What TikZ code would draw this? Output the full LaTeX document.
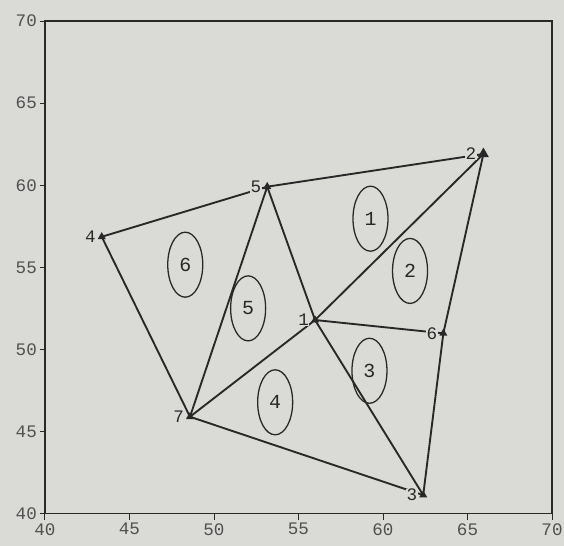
\documentclass[tikz,border=0pt]{standalone}
\usepackage{fontspec}
\setmonofont{Liberation Mono}
\usetikzlibrary{shapes.geometric,positioning}
\definecolor{paper}{RGB}{218,218,215}
\definecolor{ink}{RGB}{40,40,40}
\definecolor{axisgray}{RGB}{80,80,80}

\begin{document}
\begin{tikzpicture}[x=0.507cm,y=0.4926cm,every node/.style={font=\ttfamily\fontsize{15}{15}\selectfont},
  vert/.style={regular polygon,regular polygon sides=3,fill=ink,inner sep=0pt,minimum size=8pt},
  vlabel/.style={text=ink,fill=paper,inner sep=0.5pt},
  edge/.style={draw=ink,line width=1.6pt},
  elem/.style={ellipse,draw=ink,line width=1.1pt,minimum width=1.05cm,minimum height=1.95cm,inner sep=0pt,text=ink,font=\ttfamily\fontsize{17}{17}\selectfont},
  ticklabel/.style={text=axisgray,inner sep=1pt}]
\fill[paper] (37.34,38.03) rectangle (70.71,71.28);
\useasboundingbox (37.34,38.03) rectangle (70.71,71.28);
% frame and ticks
\draw[ink,line width=1.2pt] (40,40) rectangle (70,70);
\foreach \t in {40,45,...,70}{
  \draw[ink,line width=0.8pt] (\t,40) -- (\t,39.6);
  \node[ticklabel,anchor=north] (xt\t) at (\t,39.5) {\t};
  \draw[ink,line width=0.8pt] (40,\t) -- (39.7,\t);
  \node[ticklabel,anchor=east] (yt\t) at (39.6,\t) {\t};
}
% vertices
\node[vert] (v1) at (55.98,51.79) {};
\node[vert,minimum size=11pt] (v2) at (65.94,61.90) {};
\node[vert] (v3) at (62.38,41.13) {};
\node[vert] (v4) at (43.36,56.86) {};
\node[vert] (v5) at (53.15,59.91) {};
\node[vert] (v6) at (63.57,50.98) {};
\node[vert] (v7) at (48.58,45.90) {};
% edges
\draw[edge] (v4.center)--(v5.center);
\draw[edge] (v5.center)--(v2.center);
\draw[edge] (v2.center)--(v1.center);
\draw[edge] (v2.center)--(v6.center);
\draw[edge] (v6.center)--(v3.center);
\draw[edge] (v1.center)--(v6.center);
\draw[edge] (v5.center)--(v1.center);
\draw[edge] (v1.center)--(v3.center);
\draw[edge] (v1.center)--(v7.center);
\draw[edge] (v5.center)--(v7.center);
\draw[edge] (v4.center)--(v7.center);
\draw[edge] (v7.center)--(v3.center);
% vertex numbers
\node[vlabel,left=2pt of v1] (t1) {1};
\node[vlabel,left=2pt of v2] (t2) {2};
\node[vlabel,left=2pt of v3] (t3) {3};
\node[vlabel,left=2pt of v4] (t4) {4};
\node[vlabel,left=2pt of v5] (t5) {5};
\node[vlabel,left=2pt of v6] (t6) {6};
\node[vlabel,left=2pt of v7] (t7) {7};
% element numbers
\node[elem] (e1) at (59.26,57.96) {1};
\node[elem] (e2) at (61.60,54.78) {2};
\node[elem] (e3) at (59.20,48.70) {3};
\node[elem] (e4) at (53.62,46.78) {4};
\node[elem] (e5) at (52.02,52.50) {5};
\node[elem] (e6) at (48.30,55.16) {6};
\end{tikzpicture}
\end{document}
